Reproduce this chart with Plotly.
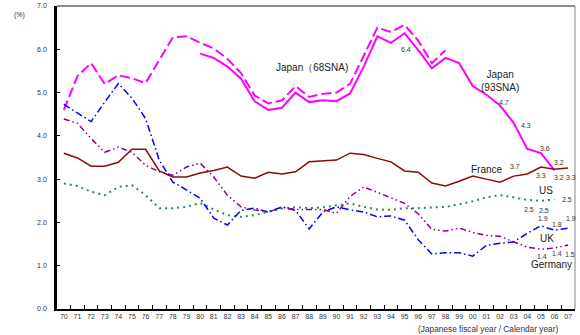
import plotly.graph_objects as go

years = ["70","71","72","73","74","75","76","77","78","79",
         "80","81","82","83","84","85","86","87","88","89",
         "90","91","92","93","94","95","96","97","98","99",
         "00","01","02","03","04","05","06","07"]

japan68 = [4.60, 5.38, 5.68, 5.20, 5.40, 5.33, 5.22, 5.75, 6.28, 6.30,
           6.15, 6.02, 5.78, 5.45, 4.93, 4.75, 4.82, 5.15, 4.90, 4.97,
           5.00, 5.20, 5.85, 6.50, 6.40, 6.56, 6.20, 5.68, 5.98, None,
           None, None, None, None, None, None, None, None]

japan93 = [None, None, None, None, None, None, None, None, None, None,
           5.90, 5.80, 5.60, 5.32, 4.80, 4.60, 4.65, 5.00, 4.78, 4.82,
           4.80, 4.98, 5.60, 6.30, 6.15, 6.37, 5.98, 5.56, 5.80, 5.68,
           5.15, 4.95, 4.70, 4.30, 3.70, 3.60, 3.20, None]

france = [3.60, 3.49, 3.30, 3.30, 3.39, 3.69, 3.69, 3.19, 3.05, 3.05,
          3.14, 3.20, 3.28, 3.07, 3.02, 3.16, 3.12, 3.17, 3.40, 3.42,
          3.44, 3.60, 3.57, 3.48, 3.40, 3.19, 3.16, 2.91, 2.84, 2.95,
          3.07, 3.00, 2.93, 3.07, 3.12, 3.28, 3.23, 3.26]

us = [2.90, 2.84, 2.71, 2.63, 2.82, 2.86, 2.63, 2.33, 2.33, 2.36,
      2.45, 2.30, 2.17, 2.13, 2.17, 2.24, 2.32, 2.35, 2.33, 2.35,
      2.40, 2.44, 2.36, 2.30, 2.29, 2.33, 2.33, 2.35, 2.36, 2.42,
      2.49, 2.58, 2.63, 2.58, 2.52, 2.50, 2.53, None]

uk = [4.73, 4.52, 4.33, 4.78, 5.21, 4.87, 4.40, 3.44, 2.93, 2.75,
      2.56, 2.10, 1.94, 2.28, 2.33, 2.24, 2.36, 2.28, 1.85, 2.24,
      2.36, 2.29, 2.24, 2.13, 2.15, 2.05, 1.60, 1.27, 1.30, 1.30,
      1.22, 1.47, 1.52, 1.55, 1.75, 1.92, 1.82, 1.87]

germany = [4.39, 4.29, 3.94, 3.62, 3.74, 3.62, 3.32, 3.17, 3.09, 3.28,
           3.37, 3.05, 2.63, 2.36, 2.29, 2.24, 2.35, 2.30, 2.30, 2.30,
           2.21, 2.60, 2.82, 2.70, 2.57, 2.44, 2.20, 1.84, 1.80, 1.87,
           1.77, 1.70, 1.68, 1.55, 1.43, 1.38, 1.41, 1.48]

yticks = [0, 1, 2, 3, 4, 5, 6, 7]
yticklabels = ["0.0", "1.0", "2.0", "3.0", "4.0", "5.0", "6.0", "7.0"]

# value labels: (text, year, value, xshift, yshift)
value_labels = [
    ("6.4", "95", 6.37, 1, -16),
    ("4.7", "02", 4.70, 4, 3),
    ("4.3", "03", 4.30, 12, -3),
    ("3.7", "04", 3.70, -12, -18),
    ("3.6", "05", 3.60, 4, 5),
    ("3.2", "06", 3.20, 4, 8),
    ("3.3", "05", 3.28, 0, -8),
    ("3.2", "06", 3.23, 4, -8),
    ("3.3", "07", 3.26, 3, -10),
    ("2.5", "04", 2.52, 2, -10),
    ("2.5", "05", 2.50, 3, -10),
    ("2.5", "06", 2.53, 12, 0),
    ("1.9", "05", 1.92, 2, 7),
    ("1.8", "06", 1.82, 2, 6),
    ("1.9", "07", 1.87, 3, 10),
    ("1.4", "05", 1.38, 1, -7),
    ("1.4", "06", 1.41, 2, -6),
    ("1.5", "07", 1.48, 2, -10),
]

# series name labels: (text, year, value, xshift)
name_labels = [
    ("Japan（68SNA)", "88", 5.59, 3),
    ("Japan<br>(93SNA)", "02", 5.27, 0),
    ("France", "01", 3.23, 1),
    ("US", "05", 2.73, 5),
    ("UK", "05", 1.64, 6),
    ("Germany", "06", 1.02, -3),
]

FONT = "Liberation Sans, Arial, sans-serif"

fig = go.Figure()
fig.add_trace(go.Scatter(x=years, y=japan68, mode="lines", name="Japan (68SNA)",
                         line=dict(color="#FF00FF", width=2, dash="10px,4px")))
fig.add_trace(go.Scatter(x=years, y=japan93, mode="lines", name="Japan (93SNA)",
                         line=dict(color="#FF00FF", width=2)))
fig.add_trace(go.Scatter(x=years, y=france, mode="lines", name="France",
                         line=dict(color="#8B0A0A", width=1.5)))
fig.add_trace(go.Scatter(x=years, y=us, mode="lines", name="US",
                         line=dict(color="#2E8B57", width=2, dash="2px,4px")))
fig.add_trace(go.Scatter(x=years, y=uk, mode="lines", name="UK",
                         line=dict(color="#0000FF", width=1.5, dash="7px,3px,1.5px,3px")))
fig.add_trace(go.Scatter(x=years, y=germany, mode="lines", name="Germany",
                         line=dict(color="#8B008B", width=1.5, dash="6px,3px,1.5px,3px,1.5px,3px")))

for t, yr, v, xs, ys in value_labels:
    fig.add_annotation(x=years.index(yr), y=v, text=t, showarrow=False, xshift=xs, yshift=ys,
                       font=dict(size=7, color="#333333", family=FONT))
for t, yr, v, xs in name_labels:
    fig.add_annotation(x=years.index(yr), y=v, text=t, showarrow=False, xshift=xs,
                       font=dict(size=10, color="#222222", family=FONT))

fig.add_annotation(xref="paper", yref="paper", x=-0.072, y=0.97, text="(%)",
                   showarrow=False, xanchor="center", yanchor="middle",
                   font=dict(size=7, color="#333333", family=FONT))
fig.add_annotation(xref="paper", yref="paper", x=0.972, y=-0.066,
                   text="(Japanese fiscal year / Calendar year)",
                   showarrow=False, xanchor="right", yanchor="middle",
                   font=dict(size=8.3, color="#333333", family=FONT))

# top and right frame lines
fig.add_shape(type="line", xref="paper", yref="paper", x0=0, x1=1, y0=1, y1=1,
              line=dict(color="#666666", width=1.5))
fig.add_shape(type="line", xref="paper", yref="paper", x0=1, x1=1, y0=0, y1=1,
              line=dict(color="#888888", width=1))

fig.update_layout(
    width=580, height=335,
    margin=dict(l=57, r=5, t=6, b=26, autoexpand=False),
    paper_bgcolor="white", plot_bgcolor="white",
    showlegend=False,
    font=dict(family=FONT, size=7, color="#333333"),
)
fig.update_xaxes(type="category", categoryorder="array", categoryarray=years,
                 tickson="boundaries", ticks="inside", ticklen=4, tickcolor="black",
                 tickwidth=1, showline=True, linecolor="black", linewidth=2,
                 showgrid=False, zeroline=False, range=[-0.5, 37.5],
                 tickangle=0, automargin=False,
                 tickfont=dict(size=7, color="#333333", family=FONT))
fig.update_yaxes(range=[0, 7], tickvals=yticks, ticktext=yticklabels,
                 ticks="inside", ticklen=3, tickcolor="black", tickwidth=1,
                 showline=True, linecolor="black", linewidth=2.5,
                 showgrid=False, zeroline=False, ticklabelstandoff=6,
                 automargin=False,
                 tickfont=dict(size=7, color="#333333", family=FONT))

fig.write_html("out.html",
               config={"displayModeBar": False},
               post_script="document.body.style.margin='0';document.body.style.overflow='hidden';")
